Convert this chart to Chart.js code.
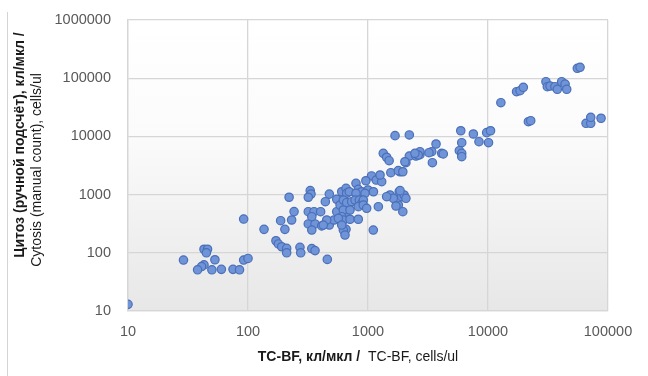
<!DOCTYPE html>
<html>
<head>
<meta charset="utf-8">
<script src="https://cdn.jsdelivr.net/npm/chart.js@4"></script>
<style>
  html, body { margin: 0; padding: 0; background: #ffffff; }
  #wrap { position: relative; width: 648px; height: 376px; }
  #edge { position: absolute; left: 7px; top: 12px; width: 1px; height: 364px; background: #d4d4d4; }
  canvas { position: absolute; left: 0; top: 0; }
</style>
</head>
<body>
<div id="wrap">
  <div id="edge"></div>
  <canvas id="chart" width="648" height="376"></canvas>
</div>
<script>
// TC-BF counts (cells/ul) for each sample
const tcBf = [
  10, 92, 43, 46, 45, 29, 53, 43, 41, 38, 50, 60, 75, 85, 92, 100,
  220, 330, 335, 318, 476, 441, 549, 604, 656, 242, 187, 231, 318, 355, 403, 318,
  362, 411, 340, 340, 476, 521, 549, 585, 604, 656, 656, 136, 203, 171, 179, 191,
  210, 210, 271, 275, 340, 362, 458,
  1340, 1430, 1500, 1550, 1850, 2070, 2210, 2510, 2710, 1070, 1170, 1300, 1260, 960,
  794, 830, 887, 1000, 1110, 944, 664, 698, 794, 623, 664, 731, 780, 847, 887, 914,
  623, 708, 830, 914, 975, 1220, 1525, 1625, 1820, 1910, 2000, 2070, 1790, 1950,
  453, 604, 623, 708, 830, 424, 623, 643, 1107,
  1680, 2210, 5930, 7550, 8410, 6040, 5770, 6040, 6040, 3690, 3400, 4110, 4240, 3440,
  2710, 2620, 2460, 3220, 2030, 1790, 1950, 1430, 1850, 1710,
  12800, 17300, 18500, 19700, 21700, 22700, 30400, 31200, 32900, 36100, 37800, 41100,
  43900, 45300, 55500, 58500, 65600, 71800, 71800, 87500, 9750, 10500, 10100, 566, 604
];

// Cytosis by manual count (cells/ul), same sample order
const cytosis = [
  13, 380, 115, 115, 100, 75, 76, 62, 58, 51, 51, 52, 52, 51, 75, 80,
  900, 1170, 1020, 900, 1020, 755, 830, 1120, 1280, 510, 356, 366, 508, 508, 508, 313,
  313, 289, 417, 246, 300, 366, 508, 663, 329, 417, 253, 253, 253, 161, 142, 127,
  119, 100, 124, 100, 118, 109, 77,
  5130, 4380, 3820, 2380, 2470, 3530, 4600, 4600, 4850, 2090, 1780, 1670, 2170, 1730,
  1560, 1230, 1120, 1200, 1120, 1050, 1050, 1120, 1050, 807, 726, 755, 807, 807, 709, 807,
  544, 544, 620, 663, 582, 620, 985, 864, 1120, 920, 985, 864, 663, 508,
  366, 417, 366, 377, 377, 300, 246, 202, 246,
  10300, 10600, 12500, 11000, 8110, 7800, 5680, 5130, 4480, 7400, 5460, 5130, 4990, 3530,
  5460, 4790, 5130, 5250, 3670, 2580, 2470, 920, 1170, 637,
  37900, 58600, 61000, 69800, 17900, 18600, 87100, 71500, 73500, 71500, 64400, 87100,
  79400, 64400, 148000, 154000, 16800, 16800, 21300, 20500, 11600, 12500, 7800, 391, 300
];

// Decade ticks on both log axes
const xTicks = [10, 100, 1000, 10000, 100000];
const yTicks = [10, 100, 1000, 10000, 100000, 1000000];

const xTitleBold = 'TC-BF, кл/мкл /';
const xTitleNormal = '  TC-BF, cells/ul';
const yTitleBold = 'Цитоз (ручной подсчёт), кл/мкл /';
const yTitleNormal = 'Cytosis (manual count), cells/ul';

const points = tcBf.map((x, i) => ({ x: x, y: cytosis[i] }));

const FONT = '"Liberation Sans", Arial, sans-serif';

// Soft vertical fill behind the plot
const plotFill = {
  id: 'plotFill',
  beforeDraw(chart) {
    const { ctx, chartArea: a } = chart;
    const g = ctx.createLinearGradient(0, a.top, 0, a.bottom);
    g.addColorStop(0, '#ffffff');
    g.addColorStop(0.4, '#fbfbfb');
    g.addColorStop(1, '#e7e7e7');
    ctx.save();
    ctx.fillStyle = g;
    ctx.fillRect(a.left, a.top, a.right - a.left, a.bottom - a.top);
    ctx.restore();
  }
};

// Axis titles with a bold Russian part and a regular English part
const axisTitles = {
  id: 'axisTitles',
  afterDraw(chart) {
    const ctx = chart.ctx;
    ctx.save();
    ctx.fillStyle = '#1a1a1a';
    ctx.textBaseline = 'middle';

    // x title on one line, two weights
    const boldFont = 'bold 14px ' + FONT;
    const normFont = '14px ' + FONT;
    ctx.font = boldFont;
    const wb = ctx.measureText(xTitleBold).width;
    ctx.font = normFont;
    const wn = ctx.measureText(xTitleNormal).width;
    const cx = 358;
    let x0 = cx - (wb + wn) / 2;
    ctx.textAlign = 'left';
    ctx.font = boldFont;
    ctx.fillText(xTitleBold, x0, 357);
    ctx.font = normFont;
    ctx.fillText(xTitleNormal, x0 + wb, 357);

    // y title on two rotated lines
    ctx.textAlign = 'center';
    ctx.save();
    ctx.translate(20, 145);
    ctx.rotate(-Math.PI / 2);
    ctx.font = boldFont;
    ctx.fillText(yTitleBold, 0, 0);
    ctx.restore();
    ctx.save();
    ctx.translate(37, 170);
    ctx.rotate(-Math.PI / 2);
    ctx.font = normFont;
    ctx.fillText(yTitleNormal, 0, 0);
    ctx.restore();

    ctx.restore();
  }
};

new Chart(document.getElementById('chart'), {
  type: 'scatter',
  data: {
    datasets: [{
      data: points,
      pointRadius: 4.2,
      pointHoverRadius: 4.2,
      pointBackgroundColor: '#6f94d8',
      pointBorderColor: '#4a6fb8',
      pointBorderWidth: 1.2
    }]
  },
  options: {
    responsive: false,
    animation: false,
    devicePixelRatio: 1,
    layout: { padding: { left: 0, right: 40, top: 20, bottom: 0 } },
    plugins: { legend: { display: false }, tooltip: { enabled: false } },
    scales: {
      x: {
        type: 'logarithmic',
        min: 10,
        max: 100000,
        afterBuildTicks: (scale) => { scale.ticks = xTicks.map(v => ({ value: v })); },
        afterFit: (scale) => { scale.height = 65; },
        grid: { color: '#d6d6d6', lineWidth: 1.3, drawTicks: false },
        border: { display: true, color: '#d6d6d6', width: 1.3 },
        ticks: {
          padding: 12,
          color: '#595959',
          font: { family: FONT, size: 14.5 },
          maxRotation: 0,
          autoSkip: false,
          callback: (v) => String(v)
        }
      },
      y: {
        type: 'logarithmic',
        min: 10,
        max: 1000000,
        afterBuildTicks: (scale) => { scale.ticks = yTicks.map(v => ({ value: v })); },
        afterFit: (scale) => {
          scale.width = 128;
          scale.paddingTop = 4;
          scale.paddingBottom = 4;
        },
        grid: { color: '#d6d6d6', lineWidth: 1.3, drawTicks: false },
        border: { display: true, color: '#d6d6d6', width: 1.3 },
        ticks: {
          padding: 17,
          color: '#595959',
          font: { family: FONT, size: 14.5 },
          autoSkip: false,
          callback: (v) => String(v)
        }
      }
    }
  },
  plugins: [plotFill, axisTitles]
});
</script>
</body>
</html>
